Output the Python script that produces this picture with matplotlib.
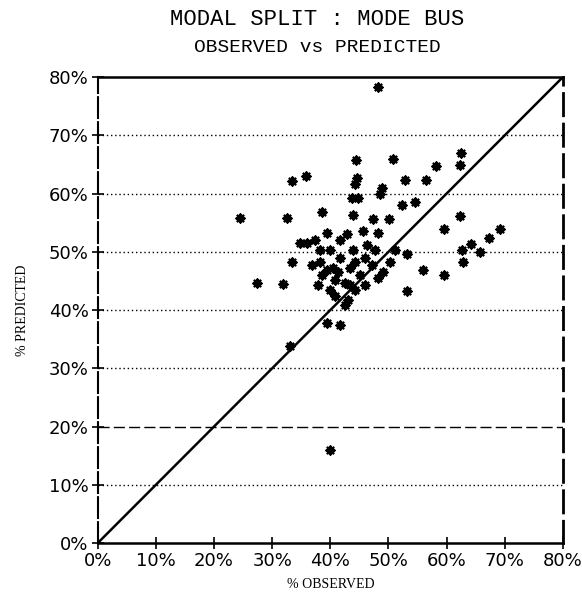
import numpy as np
import matplotlib.pyplot as plt

# observed / predicted share of bus (%)
observed = [48.2, 24.4, 27.4, 31.8, 33.4, 35.8, 32.5, 33.0, 39.9, 44.4,
            50.8, 44.6, 44.2, 48.9, 48.5, 52.8, 56.5, 43.7, 44.8, 52.3,
            54.6, 38.6, 43.9, 47.3, 50.1, 62.5, 62.3, 58.2, 62.3, 59.6,
            69.2, 67.3, 64.2, 62.7, 65.7, 62.8, 53.2, 55.9, 59.6, 53.2,
            34.8, 33.4, 38.2, 39.4, 39.4, 42.9, 45.6, 48.2, 36.0, 38.2,
            39.9, 43.9, 46.3, 49.1, 39.4, 41.7, 43.0, 42.5, 40.4, 40.8,
            37.3, 41.7, 44.2, 45.9, 41.7, 43.4, 45.1, 47.2, 40.8, 43.4,
            39.9, 37.9, 44.2, 42.5, 46.0, 48.2, 50.3, 51.1, 47.7, 36.8,
            38.6, 41.3]
predicted = [78.4, 55.9, 44.6, 44.4, 62.1, 63.0, 55.9, 33.8, 16.0, 65.7,
             66.0, 62.6, 61.7, 60.9, 60.0, 62.3, 62.4, 59.3, 59.3, 58.1,
             58.5, 56.8, 56.3, 55.7, 55.7, 66.9, 65.0, 64.8, 56.1, 54.0,
             53.9, 52.3, 51.3, 50.3, 49.9, 48.2, 49.7, 46.8, 46.0, 43.2,
             51.6, 48.2, 48.2, 46.8, 53.3, 53.0, 53.5, 53.2, 51.5, 50.3,
             50.3, 50.3, 51.1, 46.5, 37.7, 37.4, 41.7, 44.6, 47.3, 42.5,
             52.0, 52.0, 48.2, 48.9, 48.9, 47.2, 46.0, 47.7, 45.1, 44.3,
             43.4, 44.3, 43.4, 40.8, 44.3, 45.5, 48.2, 50.3, 50.3, 47.7,
             46.0, 46.5]

ticks = [0, 10, 20, 30, 40, 50, 60, 70, 80]
tick_labels = [f"{t}%" for t in ticks]

fig = plt.figure(figsize=(5.82, 6.03), dpi=100)
ax = fig.add_axes([0.168, 0.0995, 0.799, 0.7725])

# horizontal reference lines
for t in [10, 30, 40, 50, 60, 70]:
    ax.axhline(t, color="black", linestyle=(0, (1, 2)), linewidth=1.0, zorder=1)
ax.axhline(20, color="black", linestyle=(0, (8, 3)), linewidth=1.0, zorder=1)

# 45 degree line
ax.plot([0, 80], [0, 80], color="black", linewidth=1.8, zorder=2)

ax.scatter(observed, predicted, marker=(8, 2, 0), s=32, color="black",
           linewidths=1.7, zorder=3)

ax.set_xlim(0, 80)
ax.set_ylim(0, 80)
ax.set_xticks(ticks)
ax.set_yticks(ticks)
ax.set_xticklabels(tick_labels)
ax.set_yticklabels(tick_labels)
ax.tick_params(direction="inout", length=9, width=1.2, labelsize=13, pad=2)

ax.spines["top"].set_linewidth(1.8)
ax.spines["bottom"].set_linewidth(1.8)
ax.spines["left"].set_linewidth(1.5)
ax.spines["left"].set_linestyle((0, (10, 2)))
ax.spines["right"].set_linewidth(2.0)
ax.spines["right"].set_linestyle((0, (8, 3)))

ax.set_xlabel("% OBSERVED", fontsize=10, family="Liberation Serif", labelpad=6)
ax.set_ylabel("% PREDICTED", fontsize=10, family="Liberation Serif", labelpad=14)

fig.text(0.545, 0.968, "MODAL SPLIT : MODE BUS", ha="center", va="center",
         fontsize=16, family="Liberation Mono")
fig.text(0.545, 0.921, "OBSERVED vs PREDICTED", ha="center", va="center",
         fontsize=14, family="Liberation Mono")

fig.savefig("out.png", dpi=100)
